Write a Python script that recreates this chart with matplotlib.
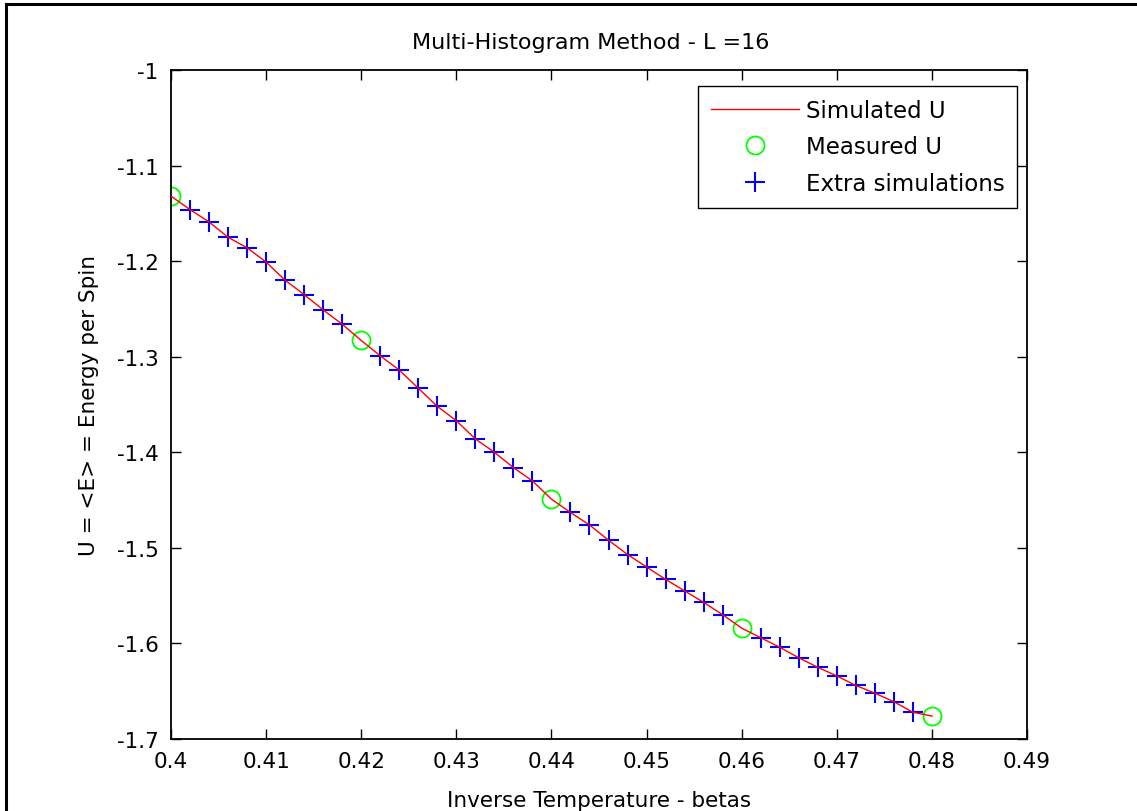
import numpy as np
import matplotlib
matplotlib.use("Agg")
import matplotlib.pyplot as plt
from matplotlib.lines import Line2D

plt.rcParams['font.family'] = ['DejaVu Sans']

# measured energies at the five simulated temperatures
beta_measured = [0.40, 0.42, 0.44, 0.46, 0.48]
u_measured = [-1.132, -1.283, -1.449, -1.584, -1.676]

# extra simulations in between
beta_extra = [0.402, 0.404, 0.406, 0.408, 0.410, 0.412, 0.414, 0.416, 0.418,
              0.422, 0.424, 0.426, 0.428, 0.430, 0.432, 0.434, 0.436, 0.438,
              0.442, 0.444, 0.446, 0.448, 0.450, 0.452, 0.454, 0.456, 0.458,
              0.462, 0.464, 0.466, 0.468, 0.470, 0.472, 0.474, 0.476, 0.478]
u_extra = [-1.146, -1.159, -1.175, -1.186, -1.201, -1.220, -1.235, -1.251, -1.266,
           -1.299, -1.314, -1.333, -1.352, -1.367, -1.386, -1.400, -1.416, -1.430,
           -1.463, -1.476, -1.492, -1.507, -1.520, -1.533, -1.545, -1.557, -1.570,
           -1.594, -1.604, -1.615, -1.625, -1.634, -1.644, -1.652, -1.661, -1.672]

xticks = [0.40, 0.41, 0.42, 0.43, 0.44, 0.45, 0.46, 0.47, 0.48, 0.49]
xticklabels = ['0.4', '0.41', '0.42', '0.43', '0.44', '0.45', '0.46', '0.47', '0.48', '0.49']
yticks = [-1.7, -1.6, -1.5, -1.4, -1.3, -1.2, -1.1, -1.0]
yticklabels = ['-1.7', '-1.6', '-1.5', '-1.4', '-1.3', '-1.2', '-1.1', '-1']

# simulated curve goes through all sample points in order
beta_sim = np.array(beta_measured + beta_extra)
u_sim = np.array(u_measured + u_extra)
order = np.argsort(beta_sim)
beta_sim, u_sim = beta_sim[order], u_sim[order]

fig = plt.figure(figsize=(11.37, 8.12), dpi=100)
ax = fig.add_axes([171 / 1137, 1 - 740 / 812, (1027 - 171) / 1137, (740 - 71) / 812])

ax.plot(beta_sim, u_sim, color='#ff0000', lw=1.0, label='Simulated U', zorder=3)
ax.plot(beta_measured, u_measured, 'o', color='#00ff00', mfc='none', ms=13, mew=1.3,
        label='Measured U', zorder=2)
ax.plot(beta_extra, u_extra, '+', color='#0000ff', ms=14, mew=1.5,
        label='Extra simulations', zorder=2)

ax.set_xlim(0.40, 0.49)
ax.set_ylim(-1.7, -1.0)
ax.set_xticks(xticks)
ax.set_xticklabels(xticklabels)
ax.set_yticks(yticks)
ax.set_yticklabels(yticklabels)
ax.tick_params(direction='in', length=7, width=1, top=True, right=True,
               labelsize=15.5, pad=9)
for s in ax.spines.values():
    s.set_linewidth(1.3)

ax.set_title('Multi-Histogram Method - L =16', fontsize=16, pad=16, x=0.49)
ax.set_xlabel('Inverse Temperature - betas', fontsize=15.5, labelpad=13)
ax.set_ylabel('U = <E> = Energy per Spin', fontsize=15.5, labelpad=13)

leg = ax.legend(loc='upper right', bbox_to_anchor=(1017 / 1137, 1 - 87 / 812),
                bbox_transform=fig.transFigure, borderaxespad=0, fontsize=16.5,
                fancybox=False, framealpha=1, edgecolor='black', numpoints=1,
                handlelength=3.85, handletextpad=0.3, labelspacing=0.6,
                borderpad=0.55)
leg.get_frame().set_linewidth(1.0)

# window frame on the left and top edges
fig.add_artist(Line2D([6 / 1137, 6 / 1137], [0, 1 - 5 / 812], color='black', lw=2.2,
                      transform=fig.transFigure))
fig.add_artist(Line2D([6 / 1137, 1], [1 - 5 / 812, 1 - 5 / 812], color='black', lw=2.2,
                      transform=fig.transFigure))

fig.savefig('out.png', dpi=100)
